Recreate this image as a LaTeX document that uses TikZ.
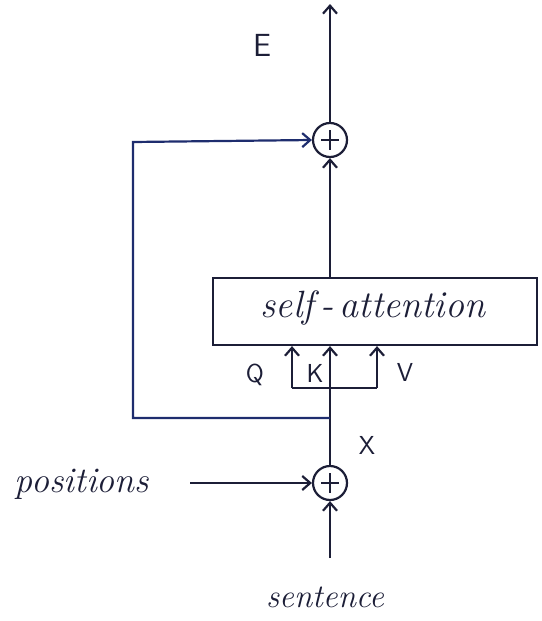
\documentclass[tikz,border=0pt]{standalone}
\usetikzlibrary{arrows.meta}
\definecolor{ink}{RGB}{28,30,55}
\definecolor{bink}{RGB}{30,45,110}
\begin{document}
\begin{tikzpicture}[x=1pt,y=-1pt,
  line width=2.2pt, draw=ink, text=ink,
  arr/.style={-{Straight Barb[length=8pt,width=14pt,line width=2.2pt]}},
  plus/.style={circle, draw, minimum size=34pt, inner sep=0pt},
  hand/.style={font=\fontsize{38}{40}\itshape\selectfont},
  lbl/.style={font=\fontsize{26}{28}\sffamily\selectfont}]
\useasboundingbox (0,0) rectangle (541,621);
\node[plus] (ptop) at (330,140) {};
\node[plus] (pbot) at (330,483) {};
\draw (ptop.center) ++(0,-10) -- ++(0,20);
\draw (ptop.center) ++(-9,0) -- ++(18,0);
\draw (pbot.center) ++(0,-10) -- ++(0,20);
\draw (pbot.center) ++(-9,0) -- ++(18,0);
\node[draw, rectangle, minimum width=324pt, minimum height=67pt, inner sep=0pt] (sa) at (375,311.5) {};
\node[hand] (satext) at (373,308) {self\,-\,attention};
\coordinate (out) at (330,4);
\node[lbl, font=\fontsize{32}{34}\sffamily\selectfont] (E) at (262,45) {E};
\node[lbl] (Q) at (255,375) {Q};
\node[lbl] (K) at (315,373) {K};
\node[lbl] (V) at (405,372) {V};
\node[lbl] (X) at (367,445) {X};
\node[hand, font=\fontsize{36}{38}\itshape\selectfont] (pos) at (82,484) {positions};
\node[hand, font=\fontsize{33}{36}\itshape\selectfont] (sen) at (325,597) {sentence};
\coordinate (qb) at (292,388);
\coordinate (vb) at (377,388);
\coordinate (fb) at (330,418);
\coordinate (pstart) at (190,483);
\coordinate (sstart) at (330,558);
% main flow
\draw[arr] (ptop.north) -- (out);
\draw[arr] (sa.north -| ptop) -- (ptop.south);
\draw[arr] (pbot.north) -- (sa.south -| pbot);
\draw[arr] (sstart) -- (pbot.south);
\draw[arr] (pstart) -- (pbot.west);
% Q,V branches
\draw (qb) -- (vb);
\draw[arr] (qb) -- (qb |- sa.south);
\draw[arr] (vb) -- (vb |- sa.south);
% residual
\draw[arr, draw=bink] (fb) -| (133,142) -- (ptop.west);
\end{tikzpicture}
\end{document}
